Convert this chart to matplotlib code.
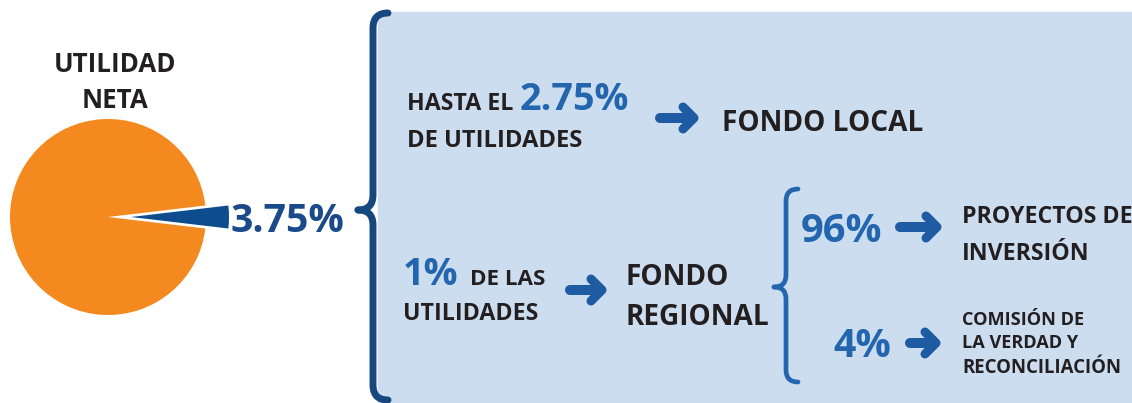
import matplotlib
matplotlib.use("Agg")
import matplotlib.pyplot as plt
from matplotlib.path import Path
from matplotlib.patches import PathPatch, Rectangle

# datos
porcentajes = [3.75, 96.25]
colores_pie = ['#0F4C8E', '#F4891F']
titulo_pie = ['UTILIDAD', 'NETA']
etiqueta_pie = '3.75%'

fondo_local = ['HASTA EL', '2.75%', 'DE UTILIDADES', 'FONDO LOCAL']
fondo_regional = ['1%', 'DE LAS', 'UTILIDADES', 'FONDO', 'REGIONAL']
reparto = ['96%', '4%']
destinos = [['PROYECTOS DE', 'INVERSIÓN'],
            ['COMISIÓN DE', 'LA VERDAD Y', 'RECONCILIACIÓN']]

W, H = 1132, 403
OSCURO = '#231F20'
AZUL = '#2366AE'
AZUL_OSC = '#1B4A8A'
AZUL_FLECHA = '#1E5BA3'
FONDO = '#CCDDF0'

plt.rcParams['font.family'] = ['Open Sans', 'DejaVu Sans']


def fs(cap):
    # altura de mayúsculas en px -> puntos
    return cap / 0.714 * 0.72


def texto(x, y, s, cap, color=OSCURO, **kw):
    ax.text(x, y, s, fontsize=fs(cap), color=color, fontweight='bold',
            va='baseline', **kw)


def flecha(x0, x1, y):
    ax.plot([x0 + 5, x1 - 5], [y, y], color=AZUL_FLECHA, lw=7.2,
            solid_capstyle='round')
    ax.plot([x1 - 14, x1 - 3, x1 - 14], [y - 11, y, y + 11],
            color=AZUL_FLECHA, lw=6.5, solid_capstyle='round',
            solid_joinstyle='round')


def llave(x, y0, y1, ypunta, c, color, lw):
    arriba = Path([(x + c, y0), (x, y0), (x, y0 + c), (x, ypunta - c),
                   (x, ypunta), (x - c, ypunta)],
                  [Path.MOVETO, Path.CURVE3, Path.CURVE3, Path.LINETO,
                   Path.CURVE3, Path.CURVE3])
    abajo = Path([(x - c, ypunta), (x, ypunta), (x, ypunta + c), (x, y1 - c),
                  (x, y1), (x + c, y1)],
                 [Path.MOVETO, Path.CURVE3, Path.CURVE3, Path.LINETO,
                  Path.CURVE3, Path.CURVE3])
    for p in (arriba, abajo):
        ax.add_patch(PathPatch(p, fill=False, edgecolor=color, lw=lw,
                               capstyle='round', joinstyle='round'))


fig = plt.figure(figsize=(W / 100, H / 100), dpi=100)
ax = fig.add_axes([0, 0, 1, 1])

# fondo celeste
ax.add_patch(Rectangle((378, 12), W - 378, H - 12, color=FONDO, zorder=0))

# pie
ax.pie(porcentajes, colors=colores_pie, startangle=-porcentajes[0] * 1.8,
       explode=[23, 0], center=(108, 217), radius=98,
       wedgeprops=dict(linewidth=0))
ax.set_xlim(0, W)
ax.set_ylim(H, 0)
ax.set_aspect('equal')
ax.axis('off')

texto(115, 72, titulo_pie[0], 18.5, ha='center')
texto(115, 108, titulo_pie[1], 18.5, ha='center')
texto(231, 232, etiqueta_pie, 28, color=AZUL_OSC)

# llave grande
llave(373, 13, 400, 210, 15, '#17477F', 5)

# fondo local
texto(407, 110, fondo_local[0], 16.5)
texto(520, 110, fondo_local[1], 27, color=AZUL)
texto(407, 147, fondo_local[2], 17)
flecha(655, 697, 118)
texto(722, 131, fondo_local[3], 20)

# fondo regional
texto(403, 285, fondo_regional[0], 27, color=AZUL)
texto(470, 285, fondo_regional[1], 16)
texto(403, 320, fondo_regional[2], 16.5)
flecha(565, 605, 290)
texto(625, 285, fondo_regional[3], 20)
texto(625, 325, fondo_regional[4], 20)

# llave pequeña
llave(786, 189, 382, 287, 12, AZUL, 3.4)

texto(801, 242, reparto[0], 28.5, color=AZUL)
flecha(895, 940, 227)
texto(962, 223, destinos[0][0], 16.5)
texto(962, 260, destinos[0][1], 16.5)

texto(833, 357, reparto[1], 28, color=AZUL)
flecha(905, 939, 343)
texto(962, 325, destinos[1][0], 13)
texto(962, 348, destinos[1][1], 13)
texto(962, 373, destinos[1][2], 13.3)

fig.savefig('out.png', dpi=100)
